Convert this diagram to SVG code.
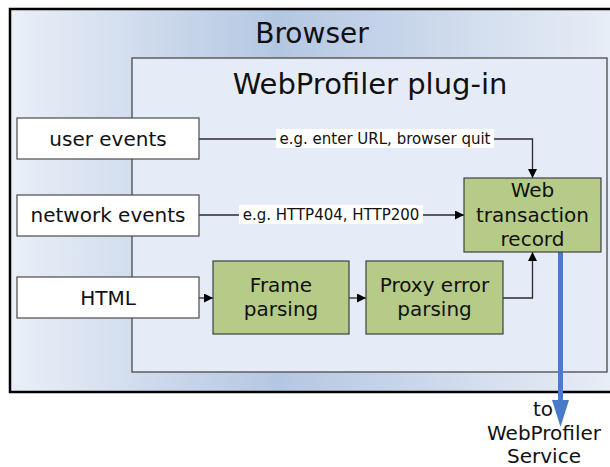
<svg xmlns="http://www.w3.org/2000/svg" width="610" height="467" viewBox="0 0 610 467">
  <defs>
    <linearGradient id="browserFill" x1="10" y1="0" x2="620" y2="0" gradientUnits="userSpaceOnUse">
      <stop offset="0" stop-color="#eaeff8"/>
      <stop offset="0.44" stop-color="#b4c7e2"/>
      <stop offset="1" stop-color="#e9eef7"/>
    </linearGradient>
    <marker id="arrow" viewBox="0 0 10 10" refX="10" refY="5" markerWidth="11" markerHeight="9" markerUnits="userSpaceOnUse" orient="auto">
      <path d="M0,0 L10,5 L0,10 z" fill="#000"/>
    </marker>
    <style>
      text { font-family: "DejaVu Sans", Verdana, sans-serif; fill: #111; text-anchor: middle; }
      .box { fill: #ffffff; stroke: #4a4a4a; stroke-width: 1.2; }
      .proc { fill: #b6cb88; stroke: #3f3f3f; stroke-width: 1.2; }
      .lbl { font-size: 20px; }
      .edge { fill: none; stroke: #2a2a2a; stroke-width: 1.3; }
      .tag { font-size: 15px; }
      .tagbg { fill: #ffffff; }
    </style>
  </defs>

  <!-- browser container -->
  <g id="browser">
    <rect x="10" y="9" width="612" height="383" fill="url(#browserFill)" stroke="#000" stroke-width="2.5"/>
    <text x="312" y="43" font-size="28">Browser</text>
  </g>

  <!-- plug-in container -->
  <g id="plugin">
    <rect x="132" y="58" width="475" height="314" fill="#e6ecf7" stroke="#555" stroke-width="1.4"/>
    <text x="370" y="94" font-size="29">WebProfiler plug-in</text>
  </g>

  <!-- connectors -->
  <g id="connectors">
    <path class="edge" d="M199,139 H532.5 V178" marker-end="url(#arrow)"/>
    <rect class="tagbg" x="276" y="129" width="218" height="19"/>
    <text class="tag" x="385" y="144">e.g. enter URL, browser quit</text>

    <path class="edge" d="M199,215 H464" marker-end="url(#arrow)"/>
    <rect class="tagbg" x="239" y="205" width="184" height="19"/>
    <text class="tag" x="331" y="220">e.g. HTTP404, HTTP200</text>

    <path class="edge" d="M199,298 H213" marker-end="url(#arrow)"/>
    <path class="edge" d="M349,298 H366" marker-end="url(#arrow)"/>
    <path class="edge" d="M503,298 H532.5 V252" marker-end="url(#arrow)"/>

    <!-- outgoing link to the service -->
    <line x1="560.5" y1="252" x2="560.5" y2="402" stroke="#4a7bc8" stroke-width="5"/>
    <polygon points="552,400 569,400 560.5,427" fill="#4a7bc8"/>
  </g>

  <g id="user-events">
    <rect class="box" x="17" y="118" width="182" height="41"/>
    <text class="lbl" x="108" y="146">user events</text>
  </g>

  <g id="network-events">
    <rect class="box" x="17" y="195" width="182" height="41"/>
    <text class="lbl" x="108" y="222">network events</text>
  </g>

  <g id="html">
    <rect class="box" x="17" y="277" width="182" height="41"/>
    <text class="lbl" x="108" y="305">HTML</text>
  </g>

  <g id="frame-parsing">
    <rect class="proc" x="213" y="261" width="136" height="73"/>
    <text class="lbl" x="281" y="292">Frame</text>
    <text class="lbl" x="281" y="316">parsing</text>
  </g>

  <g id="proxy-error-parsing">
    <rect class="proc" x="366" y="261" width="137" height="73"/>
    <text class="lbl" x="434.5" y="292">Proxy error</text>
    <text class="lbl" x="434.5" y="316">parsing</text>
  </g>

  <g id="web-transaction-record">
    <rect class="proc" x="464" y="178" width="137" height="74"/>
    <text class="lbl" x="532.5" y="197">Web</text>
    <text class="lbl" x="532.5" y="222">transaction</text>
    <text class="lbl" x="532.5" y="246">record</text>
  </g>

  <g id="service-note">
    <text class="lbl" x="543" y="416">to</text>
    <text class="lbl" x="544" y="440">WebProfiler</text>
    <text class="lbl" x="544" y="463">Service</text>
  </g>
</svg>
